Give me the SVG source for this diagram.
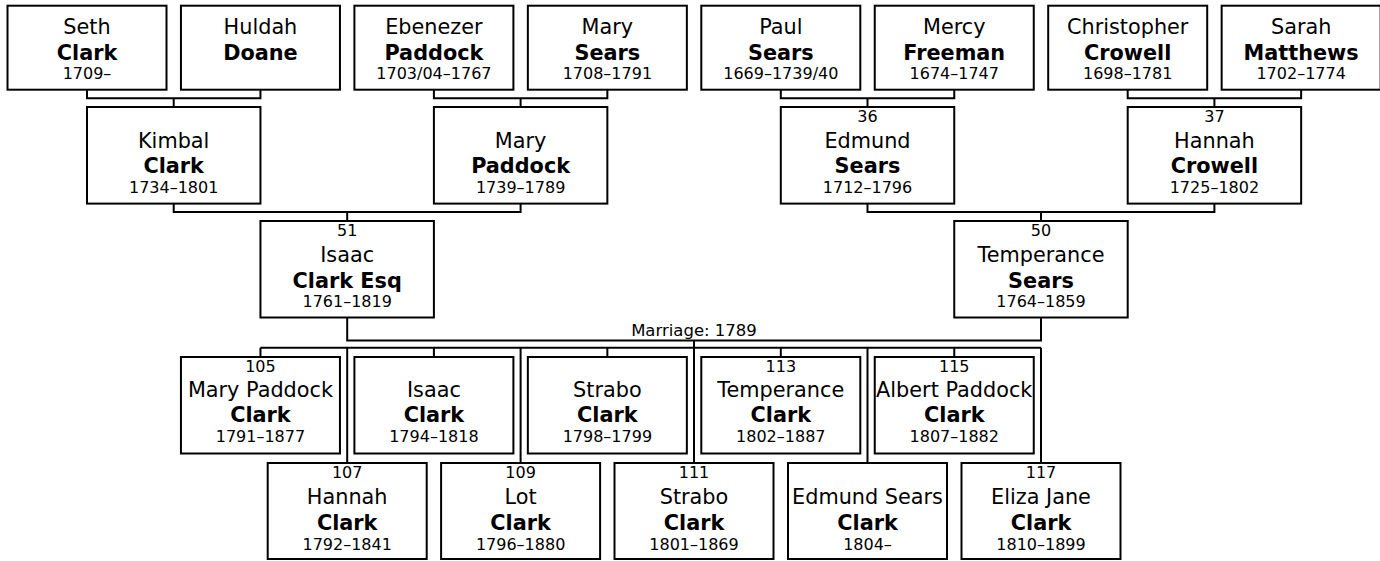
<svg xmlns="http://www.w3.org/2000/svg" width="1380" height="561" viewBox="0 0 1380 561">
<style>
rect.b{fill:#fff;stroke:#000;stroke-width:2}
.c path{fill:none;stroke:#000;stroke-width:2}
text{font-family:"DejaVu Sans","Liberation Sans",sans-serif;fill:#000;stroke:none;text-anchor:middle}
.n{font-size:20.8px}
.s{font-size:20.8px;font-weight:bold}
.d{font-size:16px}
.m{font-size:16.5px}
</style>
<rect width="1380" height="561" fill="#fff"/>
<g id="connectors" class="c">
<path d="M87 89.7V98.3H260.45V89.7M173.7 98.3V107"/>
<path d="M433.9 89.7V98.3H607.35V89.7M520.6 98.3V107"/>
<path d="M780.8 89.7V98.3H954.25V89.7M867.5 98.3V107"/>
<path d="M1127.7 89.7V98.3H1301.15V89.7M1214.4 98.3V107"/>
<path d="M173.7 203.6V212H520.6V203.6M347.2 212V221"/>
<path d="M867.5 203.6V212H1214.4V203.6M1041 212V221"/>
<path d="M347.2 317.5V340.5H1041V317.5"/>
<path d="M694 340.5V463"/>
<path d="M260.45 347.8H1041"/>
<path d="M260.45 347.8V357M433.9 347.8V357M607.35 347.8V357M780.8 347.8V357M954.25 347.8V357"/>
<path d="M347.2 347.8V463M520.6 347.8V463M867.5 347.8V463M1041 347.8V463"/>
<text class="m" x="694" y="336">Marriage: 1789</text>
</g>
<g id="seth"><rect class="b" x="7.5" y="5.7" width="159" height="84"/><text class="n" x="87" y="34.3">Seth</text><text class="s" x="87" y="59.7">Clark</text><text class="d" x="87" y="79">1709–</text></g>
<g id="huldah"><rect class="b" x="180.95" y="5.7" width="159" height="84"/><text class="n" x="260.45" y="34.3">Huldah</text><text class="s" x="260.45" y="59.7">Doane</text></g>
<g id="ebenezer"><rect class="b" x="354.4" y="5.7" width="159" height="84"/><text class="n" x="433.9" y="34.3">Ebenezer</text><text class="s" x="433.9" y="59.7">Paddock</text><text class="d" x="433.9" y="79">1703/04–1767</text></g>
<g id="marysears"><rect class="b" x="527.85" y="5.7" width="159" height="84"/><text class="n" x="607.35" y="34.3">Mary</text><text class="s" x="607.35" y="59.7">Sears</text><text class="d" x="607.35" y="79">1708–1791</text></g>
<g id="paul"><rect class="b" x="701.3" y="5.7" width="159" height="84"/><text class="n" x="780.8" y="34.3">Paul</text><text class="s" x="780.8" y="59.7">Sears</text><text class="d" x="780.8" y="79">1669–1739/40</text></g>
<g id="mercy"><rect class="b" x="874.75" y="5.7" width="159" height="84"/><text class="n" x="954.25" y="34.3">Mercy</text><text class="s" x="954.25" y="59.7">Freeman</text><text class="d" x="954.25" y="79">1674–1747</text></g>
<g id="christopher"><rect class="b" x="1048.2" y="5.7" width="159" height="84"/><text class="n" x="1127.7" y="34.3">Christopher</text><text class="s" x="1127.7" y="59.7">Crowell</text><text class="d" x="1127.7" y="79">1698–1781</text></g>
<g id="sarah"><rect class="b" x="1221.65" y="5.7" width="159" height="84"/><text class="n" x="1301.15" y="34.3">Sarah</text><text class="s" x="1301.15" y="59.7">Matthews</text><text class="d" x="1301.15" y="79">1702–1774</text></g>
<g id="kimbal"><rect class="b" x="87" y="107" width="173.45" height="96.6"/><text class="n" x="173.7" y="148">Kimbal</text><text class="s" x="173.7" y="173.4">Clark</text><text class="d" x="173.7" y="193.2">1734–1801</text></g>
<g id="marypaddock"><rect class="b" x="433.9" y="107" width="173.45" height="96.6"/><text class="n" x="520.6" y="148">Mary</text><text class="s" x="520.6" y="173.4">Paddock</text><text class="d" x="520.6" y="193.2">1739–1789</text></g>
<g id="edmund"><rect class="b" x="780.8" y="107" width="173.45" height="96.6"/><text class="d" x="867.5" y="122.3">36</text><text class="n" x="867.5" y="148">Edmund</text><text class="s" x="867.5" y="173.4">Sears</text><text class="d" x="867.5" y="193.2">1712–1796</text></g>
<g id="hannahcrowell"><rect class="b" x="1127.7" y="107" width="173.45" height="96.6"/><text class="d" x="1214.4" y="122.3">37</text><text class="n" x="1214.4" y="148">Hannah</text><text class="s" x="1214.4" y="173.4">Crowell</text><text class="d" x="1214.4" y="193.2">1725–1802</text></g>
<g id="isaac"><rect class="b" x="260.45" y="221" width="173.45" height="96.5"/><text class="d" x="347.2" y="236.4">51</text><text class="n" x="347.2" y="262.2">Isaac</text><text class="s" x="347.2" y="287.8">Clark Esq</text><text class="d" x="347.2" y="307.4">1761–1819</text></g>
<g id="temperance"><rect class="b" x="954.25" y="221" width="173.45" height="96.5"/><text class="d" x="1041" y="236.4">50</text><text class="n" x="1041" y="262.2">Temperance</text><text class="s" x="1041" y="287.8">Sears</text><text class="d" x="1041" y="307.4">1764–1859</text></g>
<g id="c105"><rect class="b" x="180.95" y="357" width="159" height="96.5"/><text class="d" x="260.45" y="371.5">105</text><text class="n" x="260.45" y="397">Mary Paddock</text><text class="s" x="260.45" y="422.3">Clark</text><text class="d" x="260.45" y="442.3">1791–1877</text></g>
<g id="cisaac"><rect class="b" x="354.4" y="357" width="159" height="96.5"/><text class="n" x="433.9" y="397">Isaac</text><text class="s" x="433.9" y="422.3">Clark</text><text class="d" x="433.9" y="442.3">1794–1818</text></g>
<g id="cstrabo"><rect class="b" x="527.85" y="357" width="159" height="96.5"/><text class="n" x="607.35" y="397">Strabo</text><text class="s" x="607.35" y="422.3">Clark</text><text class="d" x="607.35" y="442.3">1798–1799</text></g>
<g id="c113"><rect class="b" x="701.3" y="357" width="159" height="96.5"/><text class="d" x="780.8" y="371.5">113</text><text class="n" x="780.8" y="397">Temperance</text><text class="s" x="780.8" y="422.3">Clark</text><text class="d" x="780.8" y="442.3">1802–1887</text></g>
<g id="c115"><rect class="b" x="874.75" y="357" width="159" height="96.5"/><text class="d" x="954.25" y="371.5">115</text><text class="n" x="954.25" y="397">Albert Paddock</text><text class="s" x="954.25" y="422.3">Clark</text><text class="d" x="954.25" y="442.3">1807–1882</text></g>
<g id="c107"><rect class="b" x="267.7" y="463" width="159" height="96"/><text class="d" x="347.2" y="478">107</text><text class="n" x="347.2" y="504">Hannah</text><text class="s" x="347.2" y="529.6">Clark</text><text class="d" x="347.2" y="549.6">1792–1841</text></g>
<g id="c109"><rect class="b" x="441.1" y="463" width="159" height="96"/><text class="d" x="520.6" y="478">109</text><text class="n" x="520.6" y="504">Lot</text><text class="s" x="520.6" y="529.6">Clark</text><text class="d" x="520.6" y="549.6">1796–1880</text></g>
<g id="c111"><rect class="b" x="614.5" y="463" width="159" height="96"/><text class="d" x="694" y="478">111</text><text class="n" x="694" y="504">Strabo</text><text class="s" x="694" y="529.6">Clark</text><text class="d" x="694" y="549.6">1801–1869</text></g>
<g id="cedmund"><rect class="b" x="788" y="463" width="159" height="96"/><text class="n" x="867.5" y="504">Edmund Sears</text><text class="s" x="867.5" y="529.6">Clark</text><text class="d" x="867.5" y="549.6">1804–</text></g>
<g id="c117"><rect class="b" x="961.5" y="463" width="159" height="96"/><text class="d" x="1041" y="478">117</text><text class="n" x="1041" y="504">Eliza Jane</text><text class="s" x="1041" y="529.6">Clark</text><text class="d" x="1041" y="549.6">1810–1899</text></g>
</svg>
